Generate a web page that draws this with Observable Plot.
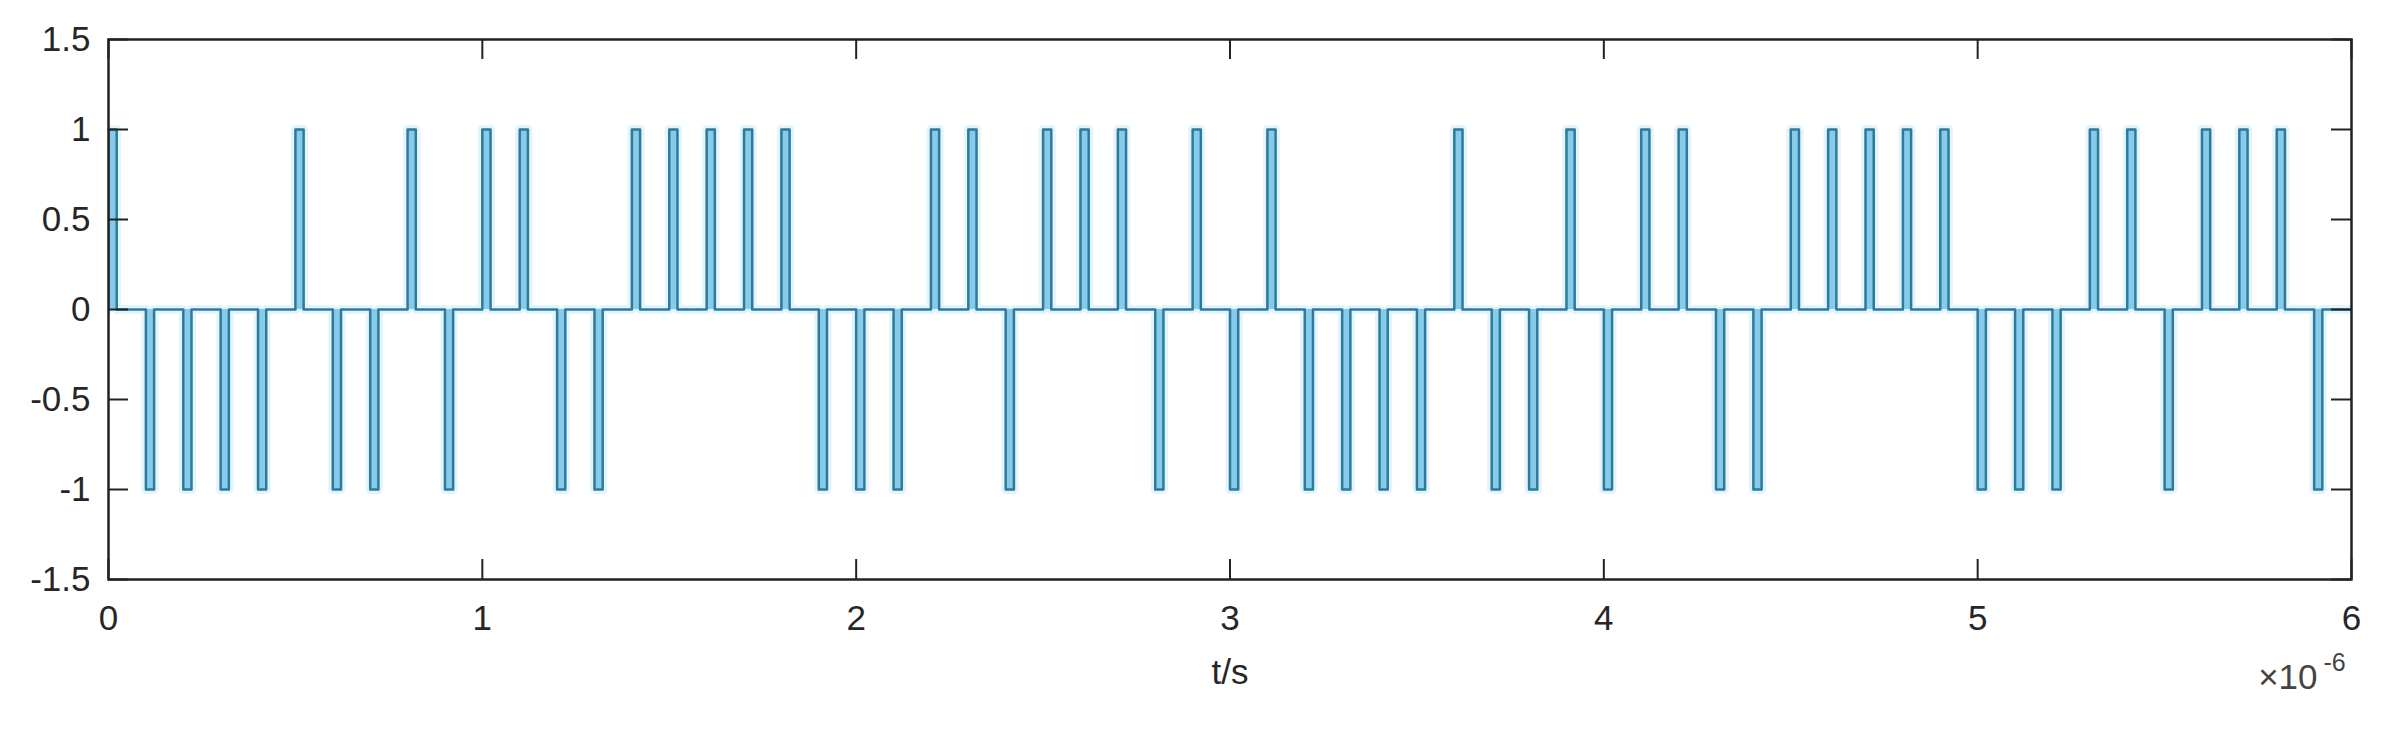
<!DOCTYPE html>
<html>
<head>
<meta charset="utf-8">
<script src="https://cdn.jsdelivr.net/npm/d3@7"></script>
<script src="https://cdn.jsdelivr.net/npm/@observablehq/plot@0.6"></script>
<style>
  html, body { margin: 0; padding: 0; background: #fff; }
  #chart svg { display: block; }
</style>
</head>
<body>
<div id="chart"></div>
<script>
// Slot start times (×10^-6 s) and the pulse level read in each slot
const slotTimes = [
  0.0, 0.1, 0.2, 0.3, 0.4, 0.5, 0.6, 0.7, 0.8, 0.9,
  1.0, 1.1, 1.2, 1.3, 1.4, 1.5, 1.6, 1.7, 1.8, 1.9,
  2.0, 2.1, 2.2, 2.3, 2.4, 2.5, 2.6, 2.7, 2.8, 2.9,
  3.0, 3.1, 3.2, 3.3, 3.4, 3.5, 3.6, 3.7, 3.8, 3.9,
  4.0, 4.1, 4.2, 4.3, 4.4, 4.5, 4.6, 4.7, 4.8, 4.9,
  5.0, 5.1, 5.2, 5.3, 5.4, 5.5, 5.6, 5.7, 5.8, 5.9
];
const pulseLevels = [
   1, -1, -1, -1, -1,  1, -1, -1,  1, -1,
   1,  1, -1, -1,  1,  1,  1,  1,  1, -1,
  -1, -1,  1,  1, -1,  1,  1,  1, -1,  1,
  -1,  1, -1, -1, -1, -1,  1, -1, -1,  1,
  -1,  1,  1, -1, -1,  1,  1,  1,  1,  1,
  -1, -1, -1,  1,  1, -1,  1,  1,  1, -1
];
const pulseWidth = 0.022;           // pulse duration (×10^-6 s)
const tEnd = 6;                      // end of record
const xTicks = [0, 1, 2, 3, 4, 5, 6];
const yTicks = [-1.5, -1, -0.5, 0, 0.5, 1, 1.5];
const xDomain = [0, 6];
const yDomain = [-1.5, 1.5];

// build the stepped waveform
const pulses = slotTimes.map((t, i) => ({t0: t, t1: t + pulseWidth, v: pulseLevels[i]}));
const wave = [];
pulses.forEach(p => {
  wave.push({t: p.t0, y: 0}, {t: p.t0, y: p.v}, {t: p.t1, y: p.v}, {t: p.t1, y: 0});
});
wave.push({t: tEnd, y: 0});

const W = 2385, H = 729;
const mL = 108, mR = 34, mT = 39, mB = 150;
const frameW = W - mL - mR, frameH = H - mT - mB;
const tickLen = 20;
const axisColor = "#222";
const font = "'Liberation Sans', Arial, Helvetica, sans-serif";

const chart = Plot.plot({
  width: W,
  height: H,
  marginLeft: mL,
  marginRight: mR,
  marginTop: mT,
  marginBottom: mB,
  style: {fontFamily: font, fontSize: "35px", color: "#262626", background: "#fff", overflow: "visible"},
  x: {domain: xDomain},
  y: {domain: yDomain},
  marks: [
    // halo around the trace
    Plot.line(wave, {x: "t", y: "y", stroke: "#d6f1fb", strokeWidth: 9, strokeOpacity: 0.7, clip: true}),
    // pulse interiors
    Plot.rectY(pulses, {x1: "t0", x2: "t1", y1: 0, y2: "v", fill: "#86cbe9", clip: true}),
    // trace
    Plot.line(wave, {x: "t", y: "y", stroke: "#2f7a9b", strokeWidth: 2.5, clip: true}),
    // box
    Plot.frame({stroke: axisColor, strokeWidth: 2.5}),
    // inward ticks, bottom & top
    Plot.tickX(xTicks, {x: d => d, stroke: axisColor, strokeWidth: 2, insetTop: frameH - tickLen}),
    Plot.tickX(xTicks, {x: d => d, stroke: axisColor, strokeWidth: 2, insetBottom: frameH - tickLen}),
    // inward ticks, left & right
    Plot.tickY(yTicks, {y: d => d, stroke: axisColor, strokeWidth: 2, insetRight: frameW - tickLen}),
    Plot.tickY(yTicks, {y: d => d, stroke: axisColor, strokeWidth: 2, insetLeft: frameW - tickLen}),
    // tick labels
    Plot.axisX({ticks: xTicks, tickSize: 0, tickPadding: 26, tickFormat: d => String(d), fontSize: 35, label: null, fill: "#262626"}),
    Plot.axisY({ticks: yTicks, tickSize: 0, tickPadding: 18, tickFormat: d => String(d), fontSize: 35, label: null, fill: "#262626"}),
    // axis title
    Plot.text(["t/s"], {text: d => d, frameAnchor: "bottom", dy: 93, lineAnchor: "middle", fontSize: 35, fill: "#262626"}),
    // exponent
    Plot.text(["×10"], {text: d => d, frameAnchor: "bottom-right", textAnchor: "end", dx: -34, dy: 98, lineAnchor: "middle", fontSize: 35, fill: "#444"}),
    Plot.text(["-6"], {text: d => d, frameAnchor: "bottom-right", textAnchor: "start", dx: -28, dy: 83, lineAnchor: "middle", fontSize: 25, fill: "#444"})
  ]
});

document.getElementById("chart").appendChild(chart);
</script>
</body>
</html>
